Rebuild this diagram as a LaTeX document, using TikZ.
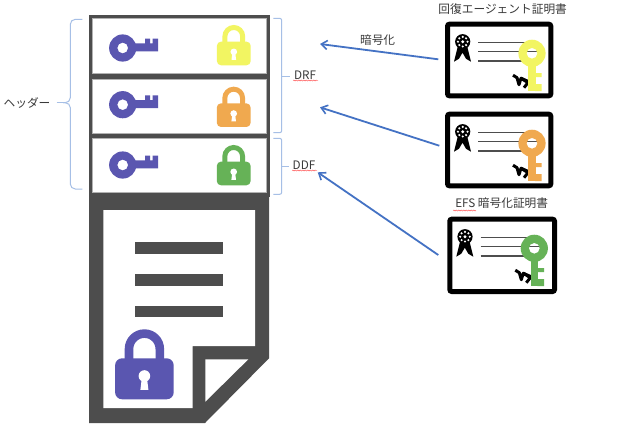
\documentclass[tikz,border=0pt]{standalone}
\usepackage{fontspec}
\setmainfont{Noto Sans CJK JP}
\usetikzlibrary{arrows.meta,decorations.pathmorphing}
\definecolor{darkframe}{HTML}{4D4D4D}
\definecolor{keypurple}{HTML}{5A56B0}
\definecolor{lockyellow}{HTML}{F2F562}
\definecolor{lockorange}{HTML}{F0A94F}
\definecolor{lockgreen}{HTML}{66B257}
\definecolor{bracecol}{HTML}{A6BFE6}
\definecolor{arrowcol}{HTML}{4472C4}
\definecolor{txtcol}{HTML}{3A3A3A}
\tikzset{
  lbl/.style={inner sep=0pt,text=txtcol,font=\fontsize{11.7}{14}\selectfont},
  slotbox/.style={fill=white,draw=gray!60,line width=.6pt,inner sep=0pt,outer sep=0pt,anchor=north west},
  bracket/.style={draw=bracecol,line width=1pt,rounded corners=5pt},
  bracetip/.style={draw=bracecol,line width=1pt},
  linkarrow/.style={draw=arrowcol,line width=1.8pt,-{Straight Barb[length=6pt,width=9pt,line width=1.6pt]}},
  spell/.style={draw=red!80,line width=.4pt,decorate,decoration={snake,amplitude=.5pt,segment length=2.5pt}},
  certbox/.style={draw=black,line width=5pt,rounded corners=2pt,fill=white,inner sep=0pt,outer sep=0pt,anchor=north west}
}
% lock: #1 x of centre, #2 y of top, #3 scale, #4 colour
\newcommand{\lockicon}[4]{%
 \begin{scope}[shift={(#1,#2)},scale=#3]
  \draw[draw=#4,line width=#3*8.6pt] (-15.4,32) -- (-15.4,19.7) arc[start angle=180,end angle=360,radius=15.4] -- (15.4,32);
  \fill[#4,rounded corners=#3*7pt] (-29.3,29) rectangle (29.3,70);
  \fill[white] (0,46.7) circle[radius=5.8];
  \fill[white] (-2.5,48) -- (2.5,48) -- (4,60.5) -- (-4,60.5) -- cycle;
 \end{scope}}
% horizontal key: #1,#2 centre of bow
\newcommand{\keyicon}[2]{%
 \begin{scope}[shift={(#1,#2)}]
  \fill[keypurple,even odd rule] (0,0) circle[radius=13.6] (0,0) circle[radius=5.4];
  \fill[keypurple] (11,-4.6) -- (22.3,-4.6) -- (22.3,-9.3) -- (27.3,-9.3) -- (27.3,-4.6) -- (30,-4.6) -- (30,-9.3) -- (35.3,-9.3) -- (35.3,3.3) -- (11,3.3) -- cycle;
 \end{scope}}
% certificate contents: #1,#2 top-left of outer edge, #3 key colour
\newcommand{\certicon}[3]{%
 \begin{scope}[shift={(#1,#2)}]
  \fill[black] (13,24) -- (9,40) -- (14,37) -- (17.5,31) -- (21,37) -- (26,40) -- (22,24) -- cycle;
  \fill[black] (17.7,20) circle[radius=7.6];
  \foreach \a in {0,45,...,315}{\fill[white] (17.7,20)++(\a:4.8) circle[radius=1.2];}
  \fill[white] (17.7,20) circle[radius=1.6];
  \draw[darkframe,line width=1.5pt] (33.3,20.8) -- (93,20.8) (33.3,29.6) -- (93,29.6) (33.3,39.2) -- (93,39.2);
  \draw[black,line width=3pt,line join=round] (68,53.5) -- (72,56) -- (74,63) -- (76,56.5) -- (83,61) -- (79,66);
  \draw[black,line width=2pt] (85,60) -- (76,56);
  \fill[#3,even odd rule] (87,31.6) circle[radius=13.6] (87,31.6) circle[radius=5.4];
  \fill[#3] (83.3,42) rectangle (90.6,69.5);
  \fill[#3] (90,51.5) rectangle (96.7,55.5) (90,62.5) rectangle (96.7,69.5);
 \end{scope}}
\begin{document}
\begin{tikzpicture}[x=1pt,y=-1pt]
\useasboundingbox (0,0) rectangle (629,437);
\fill[white] (0,0) rectangle (629,437);

% header frame with three slots
\fill[darkframe] (89,15) rectangle (270,197);
\node[slotbox,minimum width=174.4pt,minimum height=54.6pt] (slotA) at (92.3,18.7) {};
\node[slotbox,minimum width=174.4pt,minimum height=54.3pt] (slotB) at (92.3,79) {};
\node[slotbox,minimum width=174.4pt,minimum height=54.4pt] (slotC) at (92.3,138.3) {};
\keyicon{122.7}{48}
\keyicon{122.7}{104.7}
\keyicon{122.7}{165}
\lockicon{233.8}{25}{.575}{lockyellow}
\lockicon{233.7}{86.7}{.575}{lockorange}
\lockicon{233.7}{145}{.575}{lockgreen}

% document
\fill[darkframe] (89,196) -- (269,196) -- (269,358.3) -- (205,423) -- (89,423) -- cycle;
\fill[white] (103.3,210) -- (255,210) -- (255,346) -- (192.7,346) -- (192.7,408) -- (103.3,408) -- cycle;
\fill[white] (205.3,359.3) -- (248.3,359.3) -- (205.3,401.7) -- cycle;
\fill[darkframe] (135,242.3) rectangle (223.3,254);
\fill[darkframe] (135,274.3) rectangle (223.3,286);
\fill[darkframe] (135,305.7) rectangle (223.3,317);
\lockicon{144.4}{329.3}{1}{keypurple}

% braces
\draw[bracket] (82.3,19.3) -- (70.3,19.3) -- (70.3,102.7) -- (63,102.7);
\draw[bracket] (82.3,189) -- (70.3,189) -- (70.3,102.7) -- (63,102.7);
\draw[bracetip] (56.7,102.7) -- (66,102.7);
\draw[bracket,rounded corners=2pt] (273.3,18.3) -- (281.7,18.3) -- (281.7,132.7) -- (273.3,132.7);
\draw[bracetip] (281.7,76) -- (290,76);
\draw[bracket,rounded corners=2pt] (273.3,138.3) -- (281.7,138.3) -- (281.7,194.3) -- (273.3,194.3);
\draw[bracetip] (281.7,166) -- (289,166);

% labels
\node[lbl] (lblHeader) at (27,102.7) {ヘッダー};
\node[lbl] (lblDRF) at (305,75) {DRF};
\node[lbl] (lblDDF) at (304,165) {DDF};
\node[lbl] (lblEnc) at (377.6,40) {暗号化};
\node[lbl] (lblRec) at (502.7,9.5) {回復エージェント証明書};
\node[lbl] (lblEFS) at (501.7,203) {EFS 暗号化証明書};
\draw[spell] (293,80.5) -- (318,80.5);
\draw[spell] (292,170.5) -- (317,170.5);
\draw[spell] (453,210.5) -- (476,210.5);

% certificates
\node[certbox,minimum width=103.3pt,minimum height=71.6pt] (certA) at (447.5,24.2) {};
\node[certbox,minimum width=103.3pt,minimum height=71.6pt] (certB) at (447.5,114.2) {};
\node[certbox,minimum width=104.7pt,minimum height=72.3pt] (certC) at (449.8,219.2) {};
\certicon{445}{21.7}{lockyellow}
\certicon{445}{111.7}{lockorange}
\certicon{447.3}{216.7}{lockgreen}

% arrows
\coordinate (tipA) at (320,44);
\coordinate (tipB) at (320,107.3);
\coordinate (tipC) at (317.7,172.3);
\coordinate (tailA) at (438.3,59.3);
\coordinate (tailB) at (439.3,145.7);
\coordinate (tailC) at (438.3,255);
\draw[linkarrow] (tailA) -- (tipA);
\draw[linkarrow] (tailB) -- (tipB);
\draw[linkarrow] (tailC) -- (tipC);
\end{tikzpicture}
\end{document}
